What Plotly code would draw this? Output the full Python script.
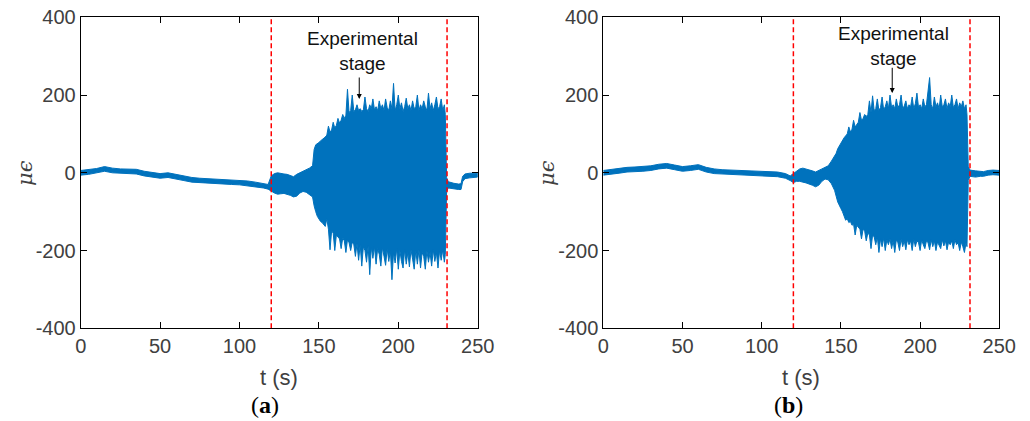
import plotly.graph_objects as go

# ---------------- data (envelopes) ----------------
t_base = [0, 5, 10, 15, 20, 25, 30, 35, 40, 45, 50, 55, 60, 65, 70, 75, 80, 85, 90, 95, 100, 105, 110, 115, 118]
t_pre = [120, 122, 124, 126, 128, 130, 132, 134, 136, 138, 140, 142, 144, 146]
t_act = [147, 148, 149, 150, 151, 152, 153, 154, 155, 156,
         157, 158, 159, 160, 161, 162, 163, 164, 165, 166,
         167, 168, 169, 170, 171, 172, 173, 174, 175, 176,
         177, 178, 179, 180, 181, 182, 183, 184, 185, 186,
         187, 188, 189, 190, 191, 192, 193, 194, 195, 196,
         197, 198, 199, 200, 201, 202, 203, 204, 205, 206,
         207, 208, 209, 210, 211, 212, 213, 214, 215, 216,
         217, 218, 219, 220, 221, 222, 223, 224, 225, 226,
         227, 228, 229]
t_post_a = [229.6, 230.4, 231.5, 235, 238, 239.5, 240.5, 242, 245, 250]
t_post_b = [229.6, 230.4, 231.5, 235, 238, 240, 243, 246, 250]

# panel (a)
upper_a_base = [6, 8, 11, 16, 12, 10, 10, 9, 4, 1, -2, 0, -4, -8, -12, -14, -15, -16, -17, -18, -19, -21, -24, -27, -30]
lower_a_base = [-6, -4, -1, 4, 0, -2, -2, -3, -8, -11, -14, -12, -16, -20, -24, -26, -27, -28, -29, -30, -31, -33, -36, -39, -42]
upper_a_pre = [-8, -2, 0, -2, -3, -4, -8, -10, -4, 0, 2, 6, 12, 18]
lower_a_pre = [-48, -52, -55, -54, -53, -55, -58, -62, -60, -52, -48, -50, -56, -62]
upper_a_act = [60, 72, 74, 78, 82, 85, 88, 92, 97, 120,
               105, 110, 130, 115, 122, 140, 128, 135, 150, 140,
               148, 215, 155, 160, 200, 158, 162, 175, 160, 165,
               158, 162, 195, 165, 158, 175, 165, 190, 162, 170,
               160, 185, 165, 175, 160, 190, 168, 160, 185, 165,
               230, 160, 175, 200, 165, 180, 158, 170, 192, 165,
               175, 160, 185, 165, 170, 200, 160, 175, 165, 185,
               170, 160, 205, 165, 180, 160, 175, 195, 165, 170,
               190, 160, 175]
lower_a_act = [-85, -100, -112, -120, -125, -128, -132, -138, -118, -145,
               -198, -150, -155, -200, -160, -165, -170, -195, -168, -175,
               -205, -172, -180, -200, -178, -185, -215, -182, -225, -185,
               -240, -190, -200, -230, -188, -262, -192, -220, -190, -235,
               -195, -210, -240, -192, -215, -238, -195, -228, -200, -275,
               -205, -232, -195, -248, -200, -228, -245, -198, -235, -205,
               -242, -198, -222, -248, -200, -235, -198, -245, -205, -215,
               -248, -200, -230, -205, -240, -198, -228, -205, -245, -200,
               -225, -198, -230]
upper_a_post = [150, -12, -23, -27, -29, -28, -9, -3, -1, -1]
lower_a_post = [-210, -48, -39, -41, -43, -43, -23, -15, -13, -11]

# panel (b)
upper_b_base = [6, 9, 11, 14, 15, 16, 18, 22, 24, 20, 16, 18, 21, 14, 10, 8, 7, 6, 5, 4, 4, 3, 2, -2, -8]
lower_b_base = [-6, -3, -1, 2, 3, 4, 6, 10, 12, 8, 4, 6, 9, 2, -2, -4, -5, -6, -7, -8, -8, -9, -10, -14, -20]
upper_b_pre = [-2, 5, 10, 12, 10, 8, 5, 2, 5, 10, 14, 18, 30, 42]
lower_b_pre = [-25, -22, -22, -24, -26, -28, -32, -36, -32, -22, -16, -18, -28, -45]
upper_b_act = [50, 62, 70, 78, 85, 90, 95, 100, 118, 105,
               112, 135, 118, 125, 130, 155, 135, 140, 150, 145,
               150, 185, 155, 198, 160, 165, 190, 160, 168, 195,
               162, 170, 185, 165, 200, 168, 175, 165, 190, 168,
               175, 200, 165, 172, 185, 165, 175, 170, 195, 165,
               178, 205, 168, 175, 165, 190, 170, 175, 205, 245,
               175, 165, 195, 170, 180, 165, 200, 170, 175, 190,
               165, 180, 170, 200, 168, 175, 190, 165, 180, 170,
               185, 165, 175]
lower_b_act = [-60, -75, -85, -92, -100, -110, -122, -118, -128, -125,
               -135, -132, -160, -135, -140, -145, -170, -145, -150, -175,
               -155, -160, -195, -160, -165, -185, -165, -205, -170, -190,
               -168, -200, -172, -185, -170, -195, -175, -205, -172, -180,
               -200, -170, -190, -175, -198, -172, -185, -175, -200, -170,
               -190, -175, -180, -200, -172, -185, -195, -175, -180, -198,
               -172, -190, -175, -200, -178, -185, -195, -172, -188, -175,
               -198, -178, -185, -175, -195, -172, -185, -180, -200, -178,
               -190, -205, -180]
upper_b_post = [150, 15, 7, 5, 3, 3, 6, 7, 6]
lower_b_post = [-190, -20, -9, -11, -9, -9, -6, -5, -6]

stage_lines = [120, 230.7]
stage_lines_b = [120, 231.5]
x_ticks = [0, 50, 100, 150, 200, 250]
y_ticks = [-400, -200, 0, 200, 400]
y_tick_text = ['-400', '-200', '0', '200', '400']

BLUE = '#0072BD'
TICKC = '#404040'

t_a = t_base + t_pre + t_act + t_post_a
up_a = upper_a_base + upper_a_pre + upper_a_act + upper_a_post
lo_a = lower_a_base + lower_a_pre + lower_a_act + lower_a_post
t_b = t_base + t_pre + t_act + t_post_b
up_b = upper_b_base + upper_b_pre + upper_b_act + upper_b_post
lo_b = lower_b_base + lower_b_pre + lower_b_act + lower_b_post

fig = go.Figure()
for t, up, lo, xa, ya in [(t_a, up_a, lo_a, 'x', 'y'), (t_b, up_b, lo_b, 'x2', 'y2')]:
    fig.add_trace(go.Scatter(
        x=t + t[::-1], y=up + lo[::-1], mode='lines', fill='toself',
        fillcolor=BLUE, line=dict(color=BLUE, width=1), xaxis=xa, yaxis=ya,
        hoverinfo='skip', showlegend=False))

axis_common = dict(showline=True, linecolor='black', linewidth=1, mirror='ticks',
                   ticks='inside', ticklen=6, tickcolor='black', showgrid=False, zeroline=False,
                   automargin=False,
                   tickfont=dict(family='Liberation Sans, Arial', size=20, color=TICKC))
ydom = [1 - 328.3 / 421, 1 - 17.3 / 421]
fig.update_layout(
    width=1030, height=421, margin=dict(l=0, r=0, t=0, b=0, pad=0),
    paper_bgcolor='white', plot_bgcolor='white', showlegend=False,
    xaxis=dict(domain=[80.7 / 1030, 477.7 / 1030], range=[0, 250], tickvals=x_ticks, anchor='y', **axis_common),
    yaxis=dict(domain=ydom, range=[-400, 400], tickvals=y_ticks, ticktext=y_tick_text, anchor='x', **axis_common),
    xaxis2=dict(domain=[603.3 / 1030, 999.3 / 1030], range=[0, 250], tickvals=x_ticks, anchor='y2', **axis_common),
    yaxis2=dict(domain=ydom, range=[-400, 400], tickvals=y_ticks, ticktext=y_tick_text, anchor='x2', **axis_common),
)

shapes = []
for xr, yr, lines in [('x', 'y', stage_lines), ('x2', 'y2', stage_lines_b)]:
    for xv in lines:
        shapes.append(dict(type='line', xref=xr, yref=yr, x0=xv, x1=xv, y0=-400, y1=400,
                           line=dict(color='#FF0000', width=1.5, dash='5px,3px')))
fig.update_layout(shapes=shapes)

anns = []
panels = [
    dict(xr='x', yr='y', tx=177.6, ty=313, ax=175.4, ay0=249, ay1=190, xt=(80.7 + 477.7) / 2, yl=25, lab='a', lx=265),
    dict(xr='x2', yr='y2', tx=183.5, ty=326, ax=182.4, ay0=274, ay1=205, xt=(603.3 + 999.3) / 2, yl=547, lab='b', lx=788),
]
for p in panels:
    anns.append(dict(xref=p['xr'], yref=p['yr'], x=p['tx'], y=p['ty'], text='Experimental<br>stage',
                     showarrow=False, font=dict(family='Liberation Sans, Arial', size=19, color='#111111'),
                     xanchor='center', yanchor='middle'))
    anns.append(dict(xref=p['xr'], yref=p['yr'], x=p['ax'], y=p['ay1'], ax=p['ax'], ay=p['ay0'],
                     axref=p['xr'], ayref=p['yr'], text='', showarrow=True, arrowhead=2,
                     arrowsize=1, arrowwidth=1, arrowcolor='black'))
    anns.append(dict(xref='paper', yref='paper', x=p['xt'] / 1030, y=1 - 377 / 421, text='t (s)',
                     showarrow=False, font=dict(family='Liberation Sans, Arial', size=22, color=TICKC),
                     xanchor='center', yanchor='middle'))
    anns.append(dict(xref='paper', yref='paper', x=p['yl'] / 1030, y=1 - 173 / 421, text='<i>μϵ</i>',
                     showarrow=False, textangle=-90,
                     font=dict(family='DejaVu Serif', size=21, color=TICKC),
                     xanchor='center', yanchor='middle'))
    anns.append(dict(xref='paper', yref='paper', x=p['lx'] / 1030, y=1 - 405 / 421,
                     text='(<b>%s</b>)' % p['lab'], showarrow=False,
                     font=dict(family='Liberation Serif', size=24, color='black'),
                     xanchor='center', yanchor='middle'))
fig.update_layout(annotations=anns)

fig.write_html('out.html')
